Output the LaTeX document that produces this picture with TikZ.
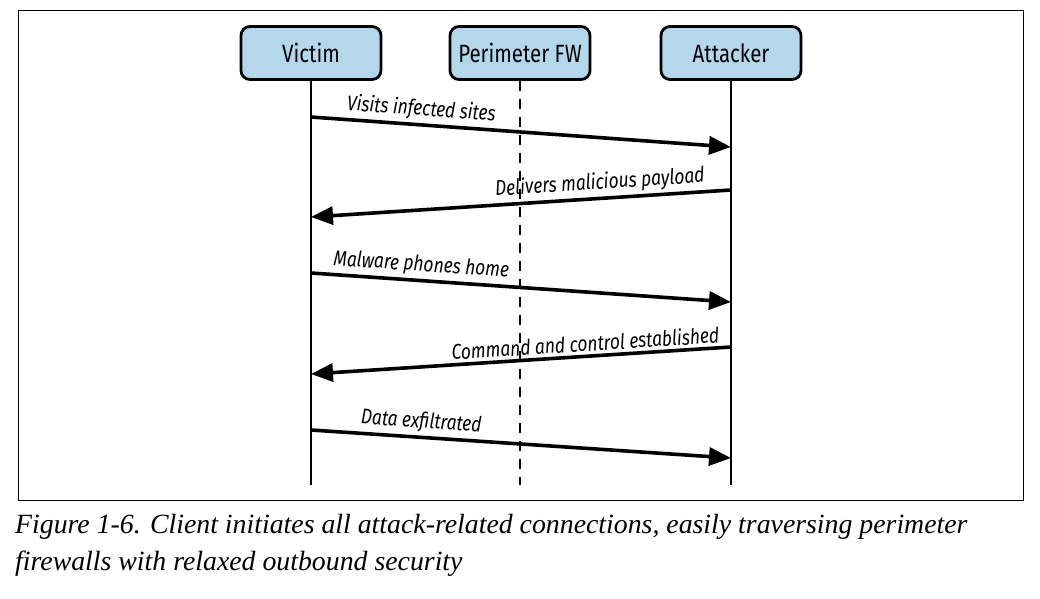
\documentclass[tikz,border=0pt]{standalone}
\usepackage{fontspec}
\setmainfont{Liberation Serif}
\newfontfamily\figfont[FakeStretch=0.82]{Fira Sans}
\usepackage{xcolor}
\usepackage{tikz}
\usetikzlibrary{arrows.meta}

\definecolor{boxblue}{RGB}{180,215,236}

\begin{document}
\begin{tikzpicture}[x=1pt,y=-1pt,
    actor/.style={draw,line width=2.8pt,rounded corners=9pt,fill=boxblue,
        minimum width=140pt,minimum height=53pt,font=\figfont\fontsize{25}{27}\selectfont},
    life/.style={line width=2.5pt},
    msg/.style={line width=3.6pt,-{Triangle[length=22pt,width=18pt]}},
    lbl/.style={above,sloped,inner sep=3pt,font=\figfont\itshape\fontsize{21.2}{23}\selectfont}]
\useasboundingbox (0,0) rectangle (1040,598);
% frame round the figure
\draw[line width=1pt] (18,10) rectangle (1023,500);

% actors with their lifelines
\node[actor] (victim) at (311,53) {Victim};
\node[actor] (fw) at (520,53) {Perimeter FW};
\node[actor] (attacker) at (731,53) {Attacker};
\coordinate (victimend) at (311,485);
\coordinate (fwend) at (520,485);
\coordinate (attackerend) at (731,485);
\draw[life] (victim) -- (victimend);
\draw[life,line width=2.8pt,dash pattern=on 10pt off 8pt] (fw) -- (fwend);
\draw[life] (attacker) -- (attackerend);

% message end points on the lifelines
\foreach \n/\y in {1/117,2/217,3/273,4/374,5/430}
    \coordinate (v\n) at (311,\y);
\foreach \n/\y in {1/147,2/190,3/302,4/347,5/458}
    \coordinate (a\n) at (731,\y);

% messages
\draw[msg] (v1) -- node[lbl,pos=0.26] {Visits infected sites} (a1);
\draw[msg] (a2) -- node[lbl,pos=0.31] {Delivers malicious payload} (v2);
\draw[msg] (v3) -- node[lbl,pos=0.26] {Malware phones home} (a3);
\draw[msg] (a4) -- node[lbl,pos=0.345] {Command and control established} (v4);
\draw[msg] (v5) -- node[lbl,pos=0.26] {Data exfiltrated} (a5);

% caption
\node[anchor=north west,align=left,inner sep=0pt,
    font=\itshape\fontsize{27.8}{37}\selectfont] (caption) at (15,514)
    {Figure 1-6. Client initiates all attack-related connections, easily traversing perimeter\\
     firewalls with relaxed outbound security};
\end{tikzpicture}
\end{document}
